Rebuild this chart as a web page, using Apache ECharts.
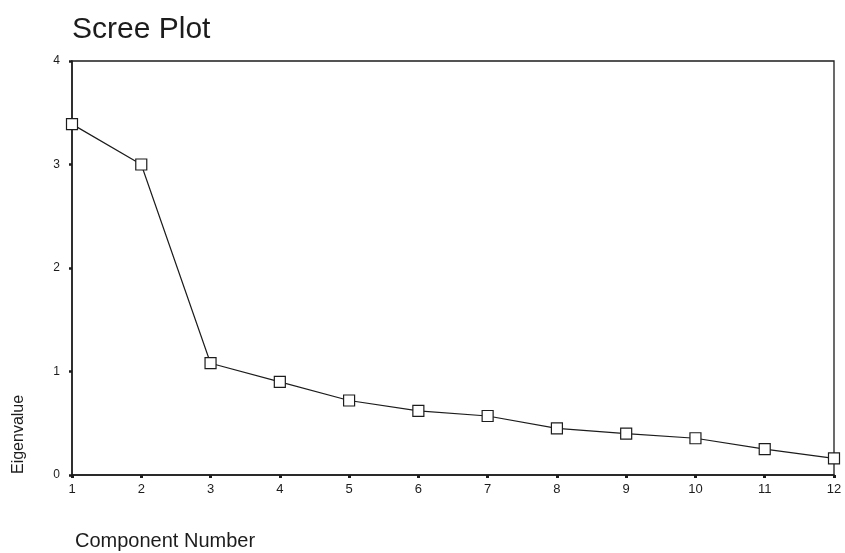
<!DOCTYPE html>
<html>
<head>
<meta charset="utf-8">
<script src="https://cdn.jsdelivr.net/npm/echarts@6/dist/echarts.min.js"></script>
<style>
html,body{margin:0;padding:0;background:#fff;}
#chart{width:845px;height:553px;}
</style>
</head>
<body>
<div id="chart"></div>
<script>
const components = ['1','2','3','4','5','6','7','8','9','10','11','12'];
const eigenvalues = [3.39, 3.00, 1.08, 0.90, 0.72, 0.62, 0.57, 0.45, 0.40, 0.355, 0.25, 0.16];
const yTicks = { min: 0, max: 4, interval: 1 };

const ink = '#1c1c1c';
const font = 'Arial, "Liberation Sans", sans-serif';
const chart = echarts.init(document.getElementById('chart'), null, { renderer: 'canvas' });
chart.setOption({
  backgroundColor: '#ffffff',
  animation: false,
  title: {
    text: 'Scree Plot',
    left: 67, top: 10,
    textStyle: { fontFamily: font, fontSize: 30, fontWeight: 'normal', color: ink }
  },
  grid: {
    left: 72, right: 11, top: 61, bottom: 78,
    show: true, borderColor: ink, borderWidth: 1.3, backgroundColor: 'transparent'
  },
  xAxis: {
    type: 'category',
    data: components,
    boundaryGap: false,
    name: 'Component Number',
    nameLocation: 'start',
    nameGap: -3,
    nameTextStyle: { fontFamily: font, fontSize: 20, color: ink, align: 'left', verticalAlign: 'top', padding: [56, 0, 0, 0] },
    axisLine: { show: true, lineStyle: { color: ink, width: 1.5 } },
    axisTick: { show: true, alignWithLabel: true, length: 3, lineStyle: { color: ink, width: 3 } },
    axisLabel: { fontFamily: font, fontSize: 13, color: ink, margin: 8 },
    splitLine: { show: false }
  },
  yAxis: {
    type: 'value',
    min: yTicks.min, max: yTicks.max, interval: yTicks.interval,
    name: 'Eigenvalue',
    nameLocation: 'start',
    nameGap: -1,
    nameRotate: 90,
    nameTextStyle: { fontFamily: font, fontSize: 16, color: ink, align: 'left', verticalAlign: 'bottom', padding: [0, 0, 45, 0] },
    axisLine: { show: true, lineStyle: { color: ink, width: 1.5 } },
    axisTick: { show: true, length: 3, lineStyle: { color: ink, width: 2.5 } },
    axisLabel: { fontFamily: font, fontSize: 12, color: ink, margin: 12 },
    splitLine: { show: false }
  },
  series: [{
    type: 'line',
    data: eigenvalues,
    symbol: 'rect',
    symbolSize: 11,
    showAllSymbol: true,
    lineStyle: { color: ink, width: 1.2 },
    itemStyle: { color: '#ffffff', borderColor: ink, borderWidth: 1.2 },
    z: 5
  }]
});
</script>
</body>
</html>
